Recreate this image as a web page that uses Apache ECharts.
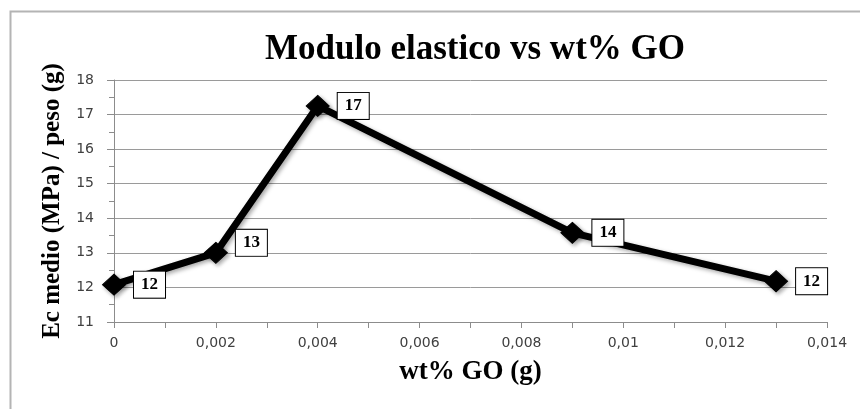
<!DOCTYPE html>
<html>
<head>
<meta charset="utf-8">
<script src="https://cdn.jsdelivr.net/npm/echarts@6/dist/echarts.min.js"></script>
<style>html,body{margin:0;padding:0;background:#fff}#c{width:860px;height:409px}</style>
</head>
<body>
<div id="c"></div>
<script>
const xValues = [0, 0.002, 0.004, 0.009, 0.013];
const yValues = [12.08, 13.0, 17.25, 13.58, 12.18];
const pointLabels = ['12', '13', '17', '14', '12'];
const titleText = 'Modulo elastico vs wt% GO';
const xName = 'wt% GO (g)';
const yName = 'Ec medio (MPa) / peso (g)';

const chart = echarts.init(document.getElementById('c'), null, {renderer: 'canvas'});
const serif = '"Liberation Serif", "Times New Roman", serif';
const sans = '"DejaVu Sans", Verdana, sans-serif';

const data = xValues.map((x, i) => {
  const d = {value: [x, yValues[i]], labelText: pointLabels[i]};
  if (i === 1) d.label = {offset: [0, -10]};
  return d;
});

chart.setOption({
  animation: false,
  graphic: [{
    type: 'rect', left: 8, top: 9, shape: {width: 900, height: 500},
    style: {fill: 'none', stroke: '#b4b4b4', lineWidth: 2}, silent: true
  }],
  title: {
    text: titleText, left: 470, top: 27, textAlign: 'center',
    textStyle: {fontFamily: serif, fontWeight: 'bold', fontSize: 35, color: '#000'}
  },
  grid: {left: 114, right: 33, top: 80, bottom: 87, containLabel: false},
  xAxis: {
    type: 'value', min: 0, max: 0.014, interval: 0.002,
    name: xName, nameLocation: 'middle', nameGap: 37,
    nameTextStyle: {fontFamily: serif, fontWeight: 'bold', fontSize: 27, color: '#000'},
    axisLine: {show: true, lineStyle: {color: '#8c8c8c', width: 1}},
    axisTick: {show: true, length: 6, lineStyle: {color: '#8c8c8c'}},
    minorTick: {show: true, splitNumber: 2, length: 6, lineStyle: {color: '#8c8c8c'}},
    splitLine: {show: false},
    axisLabel: {fontFamily: sans, fontSize: 14, color: '#404040', margin: 14,
      formatter: v => String(v).replace('.', ',')}
  },
  yAxis: {
    type: 'value', min: 11, max: 18, interval: 1,
    name: yName, nameLocation: 'middle', nameGap: 49,
    nameTextStyle: {fontFamily: serif, fontWeight: 'bold', fontSize: 25, color: '#000'},
    axisLine: {show: true, lineStyle: {color: '#8c8c8c', width: 1}},
    axisTick: {show: true, length: 7, lineStyle: {color: '#8c8c8c'}},
    minorTick: {show: true, splitNumber: 2, length: 5, lineStyle: {color: '#8c8c8c'}},
    splitLine: {show: true, lineStyle: {color: '#9a9a9a', width: 1}},
    axisLabel: {fontFamily: sans, fontSize: 14, color: '#404040', margin: 20}
  },
  series: [{
    type: 'line', data: data,
    symbol: 'diamond', symbolSize: [23, 21],
    lineStyle: {color: '#000', width: 7, shadowColor: 'rgba(0,0,0,0.35)', shadowBlur: 4, shadowOffsetX: 2, shadowOffsetY: 2},
    itemStyle: {color: '#000', borderColor: '#000', shadowColor: 'rgba(0,0,0,0.35)', shadowBlur: 4, shadowOffsetX: 2, shadowOffsetY: 2},
    label: {
      show: true, position: 'right', distance: 8,
      formatter: p => p.data.labelText,
      fontFamily: serif, fontWeight: 'bold', fontSize: 17, color: '#000',
      backgroundColor: '#fff', borderColor: '#000', borderWidth: 1,
      padding: [5, 7, 4, 7]
    }
  }]
});
</script>
</body>
</html>
